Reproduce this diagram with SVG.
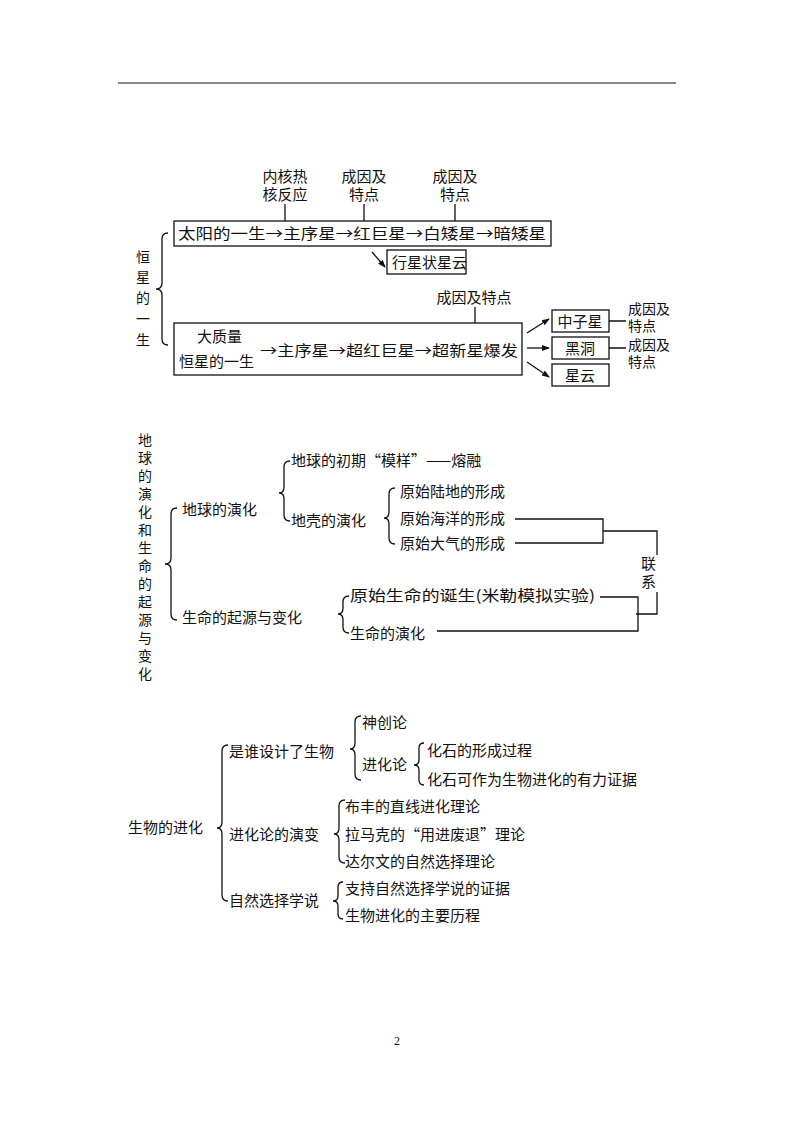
<svg xmlns="http://www.w3.org/2000/svg" width="794" height="1123" viewBox="0 0 794 1123">
<style>
text{font-family:"Noto Sans CJK SC","Noto Sans",sans-serif;font-size:15px;fill:#111}
.v{font-size:14px}
.b{fill:none;stroke:#111;stroke-width:1.3}
.l{fill:none;stroke:#111;stroke-width:1.3}
</style>
<defs><marker id="a" markerWidth="8" markerHeight="8" refX="7" refY="4" orient="auto" markerUnits="userSpaceOnUse"><path d="M0,1 L8,4 L0,7z" fill="#111"/></marker></defs>
<rect width="794" height="1123" fill="#fff"/>
<line x1="118" y1="83" x2="676" y2="83" stroke="#111" stroke-width="1"/>
<text x="397" y="1045" style="font-family:'Liberation Serif',serif;font-size:12px" text-anchor="middle">2</text>

<!-- section 1 -->
<g id="title1" class="v"><text class="v" x="136" y="262">恒</text><text class="v" x="136" y="282">星</text><text class="v" x="136" y="303">的</text><text class="v" x="136" y="324">一</text><text class="v" x="136" y="345">生</text></g>
<g id="sun"><rect class="b" x="174" y="221" width="377" height="25"/><text x="178" y="239" textLength="368" lengthAdjust="spacingAndGlyphs">太阳的一生→主序星→红巨星→白矮星→暗矮星</text></g>
<g id="lbl1"><text x="285" y="182" text-anchor="middle">内核热</text><text x="285" y="200" text-anchor="middle">核反应</text></g>
<g id="lbl2"><text x="364" y="182" text-anchor="middle">成因及</text><text x="364" y="200" text-anchor="middle">特点</text></g>
<g id="lbl3"><text x="455" y="182" text-anchor="middle">成因及</text><text x="455" y="200" text-anchor="middle">特点</text></g>
<g id="pn"><rect class="b" x="387" y="250" width="79" height="24"/><text x="392" y="268">行星状星云</text></g>
<g id="lbl4"><text x="474" y="303" text-anchor="middle">成因及特点</text></g>
<g id="big"><rect class="b" x="174" y="323" width="348" height="52"/><text x="197" y="342">大质量</text><text x="179" y="367">恒星的一生</text><text x="260" y="356" textLength="258" lengthAdjust="spacingAndGlyphs">→主序星→超红巨星→超新星爆发</text></g>
<g id="ns"><rect class="b" x="552" y="310" width="57" height="22"/><text x="580" y="327" text-anchor="middle">中子星</text></g>
<g id="bh"><rect class="b" x="552" y="337" width="57" height="22"/><text x="580" y="354" text-anchor="middle">黑洞</text></g>
<g id="nb"><rect class="b" x="552" y="364" width="57" height="22"/><text x="580" y="381" text-anchor="middle">星云</text></g>
<g id="lbl5"><text class="v" x="628" y="314">成因及</text><text class="v" x="628" y="331">特点</text></g>
<g id="lbl6"><text class="v" x="628" y="350">成因及</text><text class="v" x="628" y="367">特点</text></g>

<!-- section 2 -->
<g id="title2"><text class="v" x="138" y="445">地</text><text class="v" x="138" y="463">球</text><text class="v" x="138" y="481">的</text><text class="v" x="138" y="499">演</text><text class="v" x="138" y="517">化</text><text class="v" x="138" y="535">和</text><text class="v" x="138" y="553">生</text><text class="v" x="138" y="571">命</text><text class="v" x="138" y="589">的</text><text class="v" x="138" y="607">起</text><text class="v" x="138" y="625">源</text><text class="v" x="138" y="643">与</text><text class="v" x="138" y="661">变</text><text class="v" x="138" y="679">化</text></g>
<g id="n21"><text x="182" y="515">地球的演化</text></g>
<g id="n22"><text x="291" y="466">地球的初期“模样”——熔融</text></g>
<g id="n23"><text x="291" y="526">地壳的演化</text></g>
<g id="n24"><text x="400" y="497">原始陆地的形成</text></g>
<g id="n25"><text x="400" y="524">原始海洋的形成</text></g>
<g id="n26"><text x="400" y="549">原始大气的形成</text></g>
<g id="n27"><text x="182" y="623">生命的起源与变化</text></g>
<g id="n28"><text x="350" y="601" textLength="245" lengthAdjust="spacingAndGlyphs">原始生命的诞生(米勒模拟实验)</text></g>
<g id="n29"><text x="350" y="639">生命的演化</text></g>
<g id="lx"><text x="641" y="569">联</text><text x="641" y="587">系</text></g>

<!-- section 3 -->
<g id="m0"><text x="128" y="833">生物的进化</text></g>
<g id="m1"><text x="229" y="757">是谁设计了生物</text></g>
<g id="m2"><text x="362" y="728">神创论</text></g>
<g id="m3"><text x="362" y="770">进化论</text></g>
<g id="m4"><text x="427" y="756">化石的形成过程</text></g>
<g id="m5"><text x="427" y="785">化石可作为生物进化的有力证据</text></g>
<g id="m6"><text x="229" y="840">进化论的演变</text></g>
<g id="m7"><text x="345" y="812">布丰的直线进化理论</text></g>
<g id="m8"><text x="345" y="840">拉马克的“用进废退”理论</text></g>
<g id="m9"><text x="345" y="867">达尔文的自然选择理论</text></g>
<g id="m10"><text x="229" y="906">自然选择学说</text></g>
<g id="m11"><text x="345" y="894">支持自然选择学说的证据</text></g>
<g id="m12"><text x="345" y="921">生物进化的主要历程</text></g>

<g id="connectors">
<path class="l" d="M285,204V221M364,204V221M455,204V221M475,307V323"/>
<line class="l" x1="372" y1="252" x2="385" y2="267" marker-end="url(#a)"/>
<line class="l" x1="527" y1="333" x2="549" y2="319" marker-end="url(#a)"/>
<line class="l" x1="527" y1="348" x2="549" y2="348" marker-end="url(#a)"/>
<line class="l" x1="527" y1="362" x2="549" y2="377" marker-end="url(#a)"/>
<path class="l" d="M609,321H626M609,348H626"/>
<path class="l" d="M168,233Q162,233 162,239V283Q162,289 156,289Q162,289 162,295V339Q162,345 168,345"/>
<path class="l" d="M177,508Q171,508 171,514V558Q171,564 165,564Q171,564 171,570V614Q171,620 177,620"/>
<path class="l" d="M290,461Q284,461 284,467V487Q284,493 279,493Q284,493 284,499V515Q284,521 290,521"/>
<path class="l" d="M395,488Q389,488 389,494V512Q389,518 384,518Q389,518 389,524V538Q389,544 395,544"/>
<path class="l" d="M349,596Q343,596 343,602V608Q343,614 338,614Q343,614 343,620V627Q343,633 349,633"/>
<path class="l" d="M515,519H603V543H515M603,531H657V555M657,592V614H636M600,597H638V631H437"/>
<path class="l" d="M228,745Q222,745 222,751V822Q222,828 217,828Q222,828 222,834V895Q222,901 228,901"/>
<path class="l" d="M361,716Q355,716 355,722V743Q355,749 350,749Q355,749 355,755V774Q355,780 361,780"/>
<path class="l" d="M424,743Q419,743 419,748V760Q419,765 414,765Q419,765 419,770V780Q419,785 424,785"/>
<path class="l" d="M345,800Q339,800 339,806V828Q339,834 334,834Q339,834 339,840V857Q339,863 345,863"/>
<path class="l" d="M343,882Q338,882 338,887V896Q338,901 333,901Q338,901 338,906V914Q338,919 343,919"/>
</g>
</svg>
